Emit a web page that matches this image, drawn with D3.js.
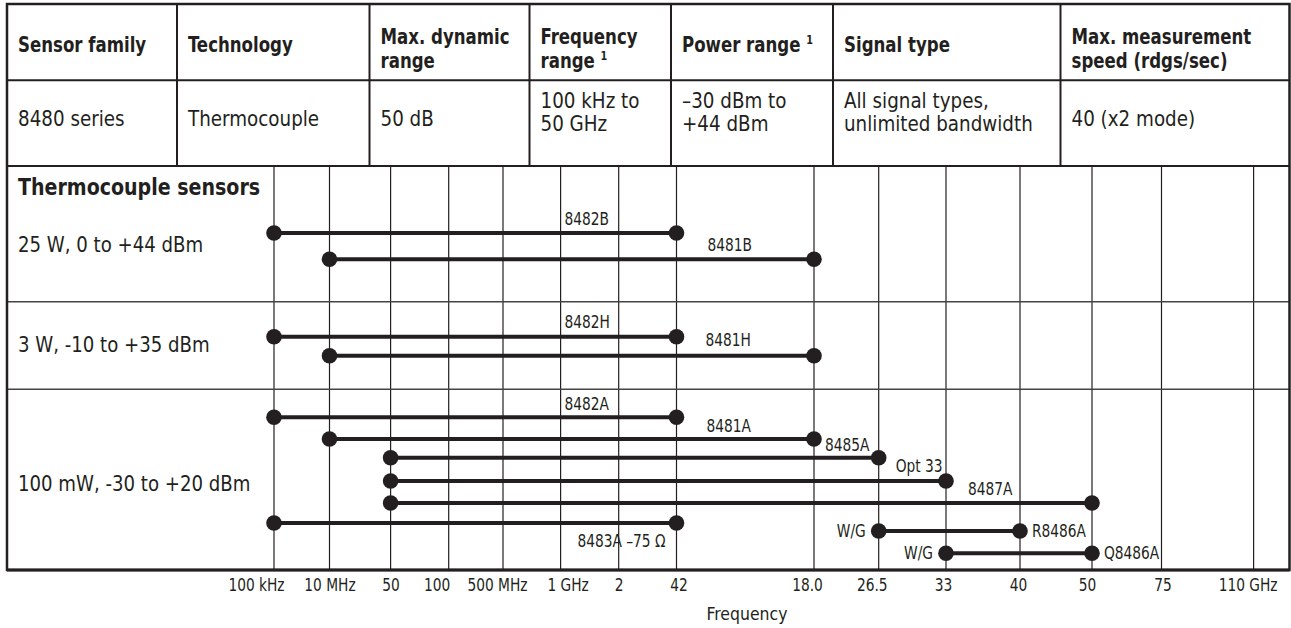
<!DOCTYPE html>
<html><head><meta charset="utf-8">
<script src="https://cdn.jsdelivr.net/npm/d3@7"></script>
<style>
html,body{margin:0;padding:0;background:#fff;}
svg text{font-family:'DejaVu Sans Condensed','DejaVu Sans',sans-serif;fill:#231f20;}
</style></head>
<body><svg id="c" width="1291" height="628"></svg>
<script>
// ---------- DATA ----------
const headerLabels = [["Sensor family"],["Technology"],["Max. dynamic","range"],["Frequency","range ¹"],["Power range ¹"],["Signal type"],["Max. measurement","speed (rdgs/sec)"]];
const rowValues = [["8480 series"],["Thermocouple"],["50 dB"],["100 kHz to","50 GHz"],["–30 dBm to","+44 dBm"],["All signal types,","unlimited bandwidth"],["40 (x2 mode)"]];
const sectionTitle = "Thermocouple sensors";
const groupLabels = ["25 W, 0 to +44 dBm","3 W, -10 to +35 dBm","100 mW, -30 to +20 dBm"];
const tickLabels = ["100 kHz","10 MHz","50","100","500 MHz","1 GHz","2","42","18.0","26.5","33","40","50","75","110 GHz"];
const tickFreqGHz = [0.0001,0.01,0.05,0.1,0.5,1,2,4.2,18,26.5,33,40,50,75,110];
const sensorNames  = ["8482B","8481B","8482H","8481H","8482A","8481A","8485A","Opt 33","8487A","8483A –75 Ω","R8486A","Q8486A"];
const sensorStartGHz = [0.0001,0.01,0.0001,0.01,0.0001,0.01,0.05,0.05,0.05,0.0001,26.5,33];
const sensorEndGHz   = [4.2,18,4.2,18,4.2,18,26.5,33,50,4.2,40,50];
const sensorGroup    = [0,0,1,1,2,2,2,2,2,2,2,2];
const sensorStartNote = ["","","","","","","","","","","W/G","W/G"];
const axisTitle = "Frequency";

// ---------- LAYOUT ----------
const ink = "#231f20";
const colX = [7,177,369.5,529.5,671,833,1060.5,1289.5];
const tableTop = 4, headBottom = 80.3, rowBottom = 166, chartBottom = 570;
const groupBounds = [166,301.7,389.3,570];
const tickX = [274,329.5,390.6,448.7,503,560.6,618.7,676.5,814,878.7,946,1020,1092,1161.5,1253.6];
const tickLabelDx = [-18,0,0,-12,-6,7,0,2,-7,-7,-3,-2,-5,1,-6];
const laneY = [233,259.3,336.7,355.7,417.3,439,457.7,481,503,523,531,553.3];
// label placement: [mode, anchorFreq|null, dx, dy]
const labelLayout = [
  ["above",1,4,-8],["above",4.2,31,-8.6],["above",1,4,-8.4],["above",4.2,29,-10],
  ["above",1,4,-7.3],["above",4.2,30,-7],["above",18,11,-7],["above",26.5,17,-9],
  ["above",33,22,-8],["belowEnd",null,-11,23.5],["right",null,12,6],["right",null,12,6]
];
const SX_BOLD = 0.9, SX_SMALL = 0.9, SX_REG = 0.97;

const svg = d3.select("#c");
const x = d3.scaleLinear().domain(tickFreqGHz).range(tickX);
const y = d3.scaleOrdinal().domain(d3.range(sensorNames.length)).range(laneY);

const sensors = sensorNames.map((n,i)=>({name:n,start:sensorStartGHz[i],end:sensorEndGHz[i],group:sensorGroup[i],note:sensorStartNote[i],lane:i,lay:labelLayout[i]}));

// text helper with horizontal condensing
function T(parent, px, py, str, o){
  const t = parent.append("text")
    .attr("transform",`translate(${px},${py}) scale(${o.sx||1},1)`)
    .attr("font-size",o.size).attr("font-weight",o.bold?"bold":"normal")
    .attr("text-anchor",o.anchor||"start");
  if(str!==null) t.text(str);
  return t;
}

// ---------- TABLE ----------
const gT = svg.append("g");
function cellText(lines, col, baselines, bold){
  lines.forEach((ln,k)=>{
    const t = T(gT, colX[col]+11, baselines[k], null, {size:bold?20.5:21,bold:bold,sx:bold?SX_BOLD:SX_REG});
    const m = ln.match(/^(.*?) ?¹$/);
    if(m){ t.append("tspan").text(m[1]+" "); t.append("tspan").attr("font-size",12).attr("dy",-8).text("1"); }
    else t.text(ln);
  });
}
headerLabels.forEach((h,i)=>cellText(h,i,h.length===1?[52]:[44,67.5],true));
rowValues.forEach((v,i)=>cellText(v,i,v.length===1?[126]:[108,131],false));

gT.selectAll("line.col").data(colX.slice(1,-1)).join("line")
  .attr("x1",d=>d).attr("x2",d=>d).attr("y1",tableTop).attr("y2",rowBottom)
  .attr("stroke",ink).attr("stroke-width",2);
[headBottom,rowBottom].forEach(yy=>gT.append("line").attr("x1",colX[0]).attr("x2",colX[7]).attr("y1",yy).attr("y2",yy).attr("stroke",ink).attr("stroke-width",2));

// ---------- CHART GRID ----------
const gG = svg.append("g");
gG.selectAll("line.grid").data(tickFreqGHz).join("line")
  .attr("x1",d=>x(d)).attr("x2",d=>x(d)).attr("y1",rowBottom).attr("y2",chartBottom)
  .attr("stroke",ink).attr("stroke-width",1.2);
gG.selectAll("line.grp").data(groupBounds.slice(1,-1)).join("line")
  .attr("x1",colX[0]).attr("x2",colX[7]).attr("y1",d=>d).attr("y2",d=>d)
  .attr("stroke","#444").attr("stroke-width",1.5);

svg.append("rect").attr("x",colX[0]).attr("y",tableTop).attr("width",colX[7]-colX[0]).attr("height",chartBottom-tableTop)
  .attr("fill","none").attr("stroke",ink).attr("stroke-width",2.5);
svg.append("line").attr("x1",colX[0]).attr("x2",colX[7]).attr("y1",chartBottom).attr("y2",chartBottom).attr("stroke",ink).attr("stroke-width",3);

// axis
const axis = d3.axisBottom(x).tickValues(tickFreqGHz).tickSize(0).tickPadding(0).tickFormat((d,i)=>tickLabels[i]);
const gA = svg.append("g").attr("transform",`translate(0,${chartBottom})`).call(axis);
gA.select(".domain").remove();
gA.selectAll("text").attr("font-size",17).attr("dy",0).attr("y",0)
  .attr("transform",(d,i)=>`translate(${tickLabelDx[i]},21) scale(${SX_SMALL},1)`)
  .style("font-family","'DejaVu Sans Condensed','DejaVu Sans',sans-serif").attr("fill",ink);
T(svg, 747, 620, axisTitle, {size:18, anchor:"middle", sx:SX_REG});

// section title & group labels
T(svg, 18, 195, sectionTitle, {size:22.5, bold:true, sx:0.94});
groupLabels.forEach((g,gi)=>{
  const ys = sensors.filter(s=>s.group===gi).map(s=>y(s.lane));
  T(svg, 18, (d3.min(ys)+d3.max(ys))/2+6, g, {size:21, sx:0.96});
});

// ---------- SENSORS ----------
const gS = svg.append("g");
gS.selectAll("line.s").data(sensors).join("line")
  .attr("x1",d=>x(d.start)).attr("x2",d=>x(d.end)).attr("y1",d=>y(d.lane)).attr("y2",d=>y(d.lane))
  .attr("stroke",ink).attr("stroke-width",4);
gS.selectAll("circle.a").data(sensors).join("circle").attr("cx",d=>x(d.start)).attr("cy",d=>y(d.lane)).attr("r",7.8).attr("fill",ink);
gS.selectAll("circle.b").data(sensors).join("circle").attr("cx",d=>x(d.end)).attr("cy",d=>y(d.lane)).attr("r",7.8).attr("fill",ink);

sensors.forEach(d=>{
  const [m,f,dx,dy] = d.lay;
  const px = (m==="above"?x(f):x(d.end))+dx;
  T(gS, px, y(d.lane)+dy, d.name, {size:17, sx:SX_SMALL, anchor:m==="belowEnd"?"end":"start"});
  if(d.note) T(gS, x(d.start)-13, y(d.lane)+6, d.note, {size:17, sx:SX_SMALL, anchor:"end"});
});
</script></body></html>
